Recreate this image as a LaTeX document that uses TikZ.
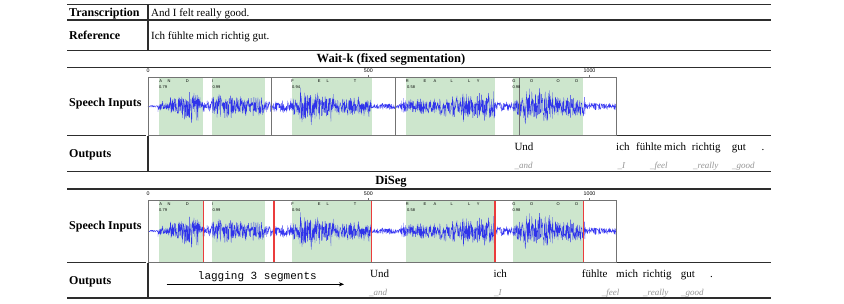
\documentclass[tikz,border=0pt]{standalone}
\usepackage{fontspec}
\setmainfont{Liberation Serif}
\setsansfont{Liberation Sans}
\setmonofont{Liberation Mono}
\usetikzlibrary{arrows.meta}
\definecolor{segGreen}{RGB}{205,230,205}
\definecolor{ruleGray}{RGB}{45,45,45}
\definecolor{boxGray}{RGB}{115,115,115}
\definecolor{waveBlue}{RGB}{20,20,240}
\definecolor{cutRed}{RGB}{235,60,60}
\definecolor{subGray}{RGB}{150,150,150}
\newcommand\drawwave[1]{%
  \pgfmathsetseed{12345}%
  \draw[waveBlue, line width=0.3pt, line join=round, draw opacity=0.85] (148,#1)
  \foreach \a/\b/\amp/\n in {148/158/1.5/40, 158/168/6/40, 168/178/12/40, 178/200/17/88,
     200/212/8/48, 212/240/14/112, 240/265/12/100, 265/291/7/104, 291/300/9/36, 300/316/23/64,
     316/335/16/76, 335/371/11/144, 371/400/4/116, 400/440/9/160, 440/460/13/80, 460/495/16/140,
     495/512/5.5/68, 512/525/12/52, 525/555/20/120, 555/585/13/120, 585/616/4.5/124}
  { -- plot[domain=\a:\b, samples=\n] (\x, {#1 + \amp*rand*(0.4+0.6*rnd)}) };
}
\newcommand\seglabels[1]{% #1 = prefix
  \foreach \lx/\lt [count=\i] in {160.7/A, 169/N, 187.3/D, 212.7/I, 292.7/F, 319.3/E, 327.7/L, 355/T,
     407.3/R, 425/E, 435/A, 451.7/L, 469.3/L, 478.3/Y, 514/G, 531.7/O, 558.3/O, 576.7/D}
    { \node[seglab, anchor=base] (#1-l\i) at (\lx,5.6) {\lt}; }
  \foreach \nx/\nt [count=\i] in {159/0.79, 212.3/0.99, 292/0.94, 407/0.58, 512.3/0.98}
    { \node[seglab, anchor=base west] (#1-n\i) at (\nx,11.5) {\nt}; }
}
\newcommand\ticks[1]{% #1 = prefix
  \node[ticklab] (#1-t0) at (148,-5) {0};
  \node[ticklab] (#1-t500) at (368.3,-5) {500};
  \node[ticklab] (#1-t1000) at (589.5,-5) {1000};
  \draw[boxGray, line width=0.5pt] (368.3,-1.8) -- (368.3,0) (589.5,-1.8) -- (589.5,0);
}
\newcommand\greens[1]{% #1 = height
  \fill[segGreen] (159,0) rectangle (203.4,#1);
  \fill[segGreen] (212,0) rectangle (265.3,#1);
  \fill[segGreen] (291.5,0) rectangle (371.6,#1);
  \fill[segGreen] (406,0) rectangle (495,#1);
  \fill[segGreen] (512.5,0) rectangle (583.4,#1);
}
\begin{document}
\begin{tikzpicture}[x=1pt,y=-1pt,
  rulel/.style={draw=ruleGray,line width=1.2pt},
  lab/.style={font=\fontsize{12}{12}\selectfont\bfseries,anchor=base west,inner sep=0},
  txt/.style={font=\fontsize{11}{11}\selectfont,anchor=base west,inner sep=0},
  ttl/.style={font=\fontsize{12.5}{12.5}\selectfont\bfseries,anchor=base,inner sep=0},
  word/.style={font=\fontsize{11}{11}\selectfont,anchor=base west,inner sep=0},
  sub/.style={font=\fontsize{9}{9}\selectfont\itshape,text=subGray,anchor=base west,inner sep=0},
  seglab/.style={font=\sffamily\fontsize{4}{4}\selectfont,inner sep=0},
  ticklab/.style={font=\sffamily\fontsize{5.3}{5.3}\selectfont,inner sep=0,anchor=base},
  frame/.style={draw=boxGray,line width=0.9pt},
]
\useasboundingbox (0,0) rectangle (844,303);
\fill[white] (0,0) rectangle (844,303);

% ---------- header rows ----------
\draw[rulel] (67,4.5) -- (771,4.5);
\draw[rulel] (67,20) -- (771,20);
\draw[rulel] (67,50.5) -- (771,50.5);
\draw[rulel] (148,4.5) -- (148,50.5);
\node[lab] (trlab) at (69,16.7) {Transcription};
\node[txt] (trtxt) at (151,16.7) {And I felt really good.};
\node[lab] (reflab) at (69,39) {Reference};
\node[txt] (reftxt) at (151,39) {Ich fühlte mich richtig gut.};

% ---------- Wait-k ----------
\node[ttl] (wkttl) at (391,62.7) {Wait-k (fixed segmentation)};
\draw[rulel] (67,67.5) -- (771,67.5);
\node[lab] (wkspeech) at (69,106) {Speech Inputs};
\begin{scope}[shift={(0,77.2)}]
  \greens{58.5}
  \drawwave{29.3}
  \draw[boxGray, line width=0.7pt] (271.7,0) -- (271.7,58.5) (395.7,0) -- (395.7,58.5) (519,0) -- (519,58.5);
  \draw[frame] (148,0) rectangle (616.5,58.5);
  \seglabels{wk}
  \ticks{wk}
\end{scope}
\draw[rulel] (67,135.7) -- (146,135.7);
\draw[rulel] (617,135.7) -- (771,135.7);
\draw[rulel] (148,135.7) -- (148,171.7);
\node[lab] (wkout) at (69,157.3) {Outputs};
\node[word] (wkw1) at (514.3,150.4) {Und};
\node[word] (wkw2) at (616,150.4) {ich};
\node[word] (wkw3) at (636,150.4) {fühlte};
\node[word] (wkw4) at (664,150.4) {mich};
\node[word] (wkw5) at (691.7,150.4) {richtig};
\node[word] (wkw6) at (731.7,150.4) {gut};
\node[word] (wkw7) at (761.5,150.4) {.};
\node[sub] (wks1) at (514.3,168) {\_and};
\node[sub] (wks2) at (617.5,168) {\_I};
\node[sub] (wks3) at (650,168) {\_feel};
\node[sub] (wks4) at (693,168) {\_really};
\node[sub] (wks5) at (732,168) {\_good};
\draw[rulel] (67,171.7) -- (771,171.7);

% ---------- DiSeg ----------
\node[ttl] (dsttl) at (391,184) {DiSeg};
\draw[rulel] (67,189) -- (771,189);
\node[lab] (dsspeech) at (69,229) {Speech Inputs};
\begin{scope}[shift={(0,200)}]
  \greens{62.5}
  \drawwave{31.2}
  \draw[cutRed, line width=1.1pt] (203.3,0) -- (203.3,62.5) (274,0) -- (274,62.5) (371.7,0) -- (371.7,62.5)
     (495,0) -- (495,62.5) (583.3,0) -- (583.3,62.5);
  \draw[frame] (148,0) rectangle (616.5,62.5);
  \seglabels{ds}
  \ticks{ds}
\end{scope}
\draw[rulel] (67,262.7) -- (146,262.7);
\draw[rulel] (617,262.7) -- (771,262.7);
\draw[rulel] (148,262.7) -- (148,298);
\node[lab] (dsout) at (69,284) {Outputs};
\coordinate (lagS) at (166.7,284.3);
\coordinate (lagE) at (344,284.3);
\draw[-{Stealth[length=5pt,width=4pt]}, line width=0.6pt] (lagS) -- (lagE);
\node[font=\ttfamily\fontsize{11}{11}\selectfont, anchor=base west, inner sep=0] (lagtxt) at (197.7,279.8) {lagging 3 segments};
\node[word] (dsw1) at (370,277.7) {Und};
\node[word] (dsw2) at (493.3,277.7) {ich};
\node[word] (dsw3) at (581.7,277.7) {fühlte};
\node[word] (dsw4) at (616,277.7) {mich};
\node[word] (dsw5) at (642.7,277.7) {richtig};
\node[word] (dsw6) at (680.7,277.7) {gut};
\node[word] (dsw7) at (710,277.7) {.};
\node[sub] (dss1) at (369,295) {\_and};
\node[sub] (dss2) at (494,295) {\_I};
\node[sub] (dss3) at (601.7,295) {\_feel};
\node[sub] (dss4) at (643,295) {\_really};
\node[sub] (dss5) at (681,295) {\_good};
\draw[rulel] (67,298) -- (771,298);
\end{tikzpicture}
\end{document}
